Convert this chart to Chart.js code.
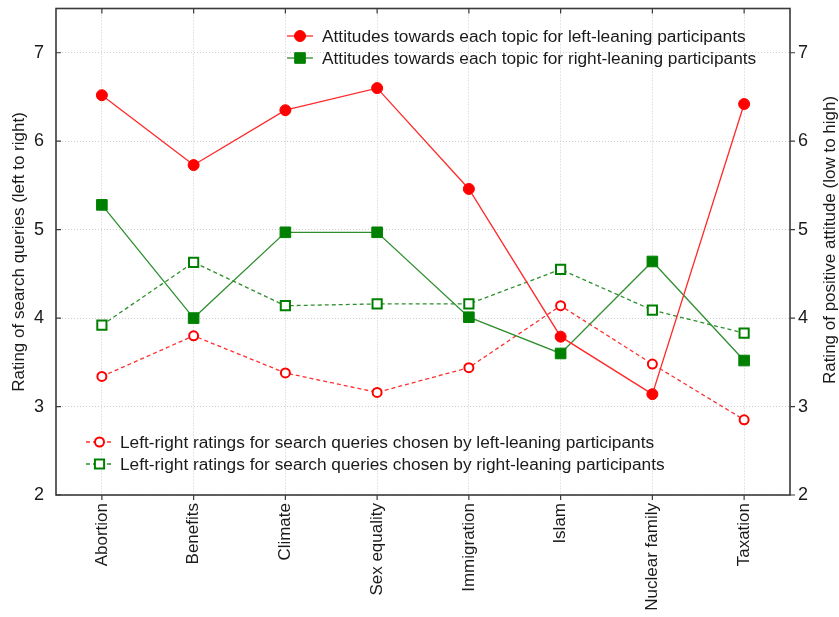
<!DOCTYPE html>
<html>
<head>
<meta charset="utf-8">
<script src="https://cdn.jsdelivr.net/npm/chart.js@4/dist/chart.umd.min.js"></script>
<style>
  html, body { margin: 0; padding: 0; background: #ffffff; }
  #wrap { width: 839px; height: 617px; position: relative; }
</style>
</head>
<body>
<div id="wrap"><canvas id="c" width="839" height="617"></canvas></div>
<script>
// Topics on the horizontal axis
const topics = ['Abortion', 'Benefits', 'Climate', 'Sex equality', 'Immigration', 'Islam', 'Nuclear family', 'Taxation'];

// Attitude ratings (right axis, low to high)
const leftAttitude  = [6.52, 5.73, 6.35, 6.60, 5.46, 3.79, 3.14, 6.42];
const rightAttitude = [5.28, 4.00, 4.97, 4.97, 4.01, 3.60, 4.64, 3.52];

// Left-right ratings of chosen search queries (left axis)
const leftQueries  = [3.34, 3.80, 3.38, 3.16, 3.44, 4.14, 3.48, 2.85];
const rightQueries = [3.92, 4.63, 4.14, 4.16, 4.16, 4.55, 4.09, 3.83];

// Tick labels shared by both vertical axes
const yTicks = [2, 3, 4, 5, 6, 7];

// Series names
const seriesNames = [
  'Attitudes towards each topic for left-leaning participants',
  'Attitudes towards each topic for right-leaning participants',
  'Left-right ratings for search queries chosen by left-leaning participants',
  'Left-right ratings for search queries chosen by right-leaning participants'
];

const FONT = "'Liberation Sans', Arial, Helvetica, sans-serif";
const TEXT = '#1a1a1a';
const RED = '#ff0000';
const GREEN = '#008000';
const GREEN_LINE = '#2f8f2f';

const datasets = [
  {
    label: seriesNames[0], data: leftAttitude, yAxisID: 'y2',
    borderColor: '#ff2a2a', borderWidth: 1.3,
    pointStyle: 'circle', pointRadius: 5.5, pointBorderWidth: 1,
    pointBackgroundColor: RED, pointBorderColor: RED
  },
  {
    label: seriesNames[1], data: rightAttitude, yAxisID: 'y2',
    borderColor: GREEN_LINE, borderWidth: 1.3,
    pointStyle: 'rect', pointRadius: 7.5, pointBorderWidth: 1,
    pointBackgroundColor: GREEN, pointBorderColor: GREEN
  },
  {
    label: seriesNames[2], data: leftQueries, yAxisID: 'y',
    borderColor: '#ff3030', borderWidth: 1.3, borderDash: [4, 3],
    pointStyle: 'circle', pointRadius: 4.5, pointBorderWidth: 2,
    pointBackgroundColor: '#ffffff', pointBorderColor: RED
  },
  {
    label: seriesNames[3], data: rightQueries, yAxisID: 'y',
    borderColor: GREEN_LINE, borderWidth: 1.3, borderDash: [4, 3],
    pointStyle: 'rect', pointRadius: 6.5, pointBorderWidth: 2,
    pointBackgroundColor: '#ffffff', pointBorderColor: GREEN
  }
];

// Frame, tick marks, in-plot legends and axis titles
const overlay = {
  id: 'overlay',
  beforeDatasetsDraw(chart) {
    const { ctx, chartArea: a, scales } = chart;
    ctx.save();
    ctx.strokeStyle = '#3a3a3a';
    ctx.lineWidth = 1.6;
    ctx.strokeRect(a.left, a.top, a.right - a.left, a.bottom - a.top);
    ctx.lineWidth = 1.2;
    ctx.beginPath();
    yTicks.forEach(v => {
      const py = scales.y.getPixelForValue(v);
      ctx.moveTo(a.left, py); ctx.lineTo(a.left + 5, py);
      ctx.moveTo(a.right, py); ctx.lineTo(a.right + 5, py);
    });
    topics.forEach((t, i) => {
      const px = scales.x.getPixelForValue(i);
      ctx.moveTo(px, a.top); ctx.lineTo(px, a.top + 5);
      ctx.moveTo(px, a.bottom); ctx.lineTo(px, a.bottom + 5);
    });
    ctx.stroke();
    ctx.restore();
  },
  afterDraw(chart) {
    const { ctx } = chart;
    const drawEntry = (ds, x0, x1, y, tx) => {
      ctx.save();
      ctx.strokeStyle = ds.borderColor;
      ctx.lineWidth = ds.borderWidth;
      ctx.setLineDash(ds.borderDash || []);
      ctx.beginPath(); ctx.moveTo(x0, y); ctx.lineTo(x1, y); ctx.stroke();
      ctx.setLineDash([]);
      ctx.fillStyle = ds.pointBackgroundColor;
      ctx.strokeStyle = ds.pointBorderColor;
      ctx.lineWidth = ds.pointBorderWidth;
      Chart.helpers.drawPoint(ctx, {
        pointStyle: ds.pointStyle, radius: ds.pointRadius,
        borderWidth: ds.pointBorderWidth, rotation: 0
      }, (x0 + x1) / 2, y);
      ctx.fillStyle = TEXT;
      ctx.font = '17.3px ' + FONT;
      ctx.textAlign = 'left';
      ctx.textBaseline = 'middle';
      ctx.fillText(ds.label, tx, y + 1);
      ctx.restore();
    };
    const ds = chart.data.datasets;
    drawEntry(ds[0], 287, 313, 36, 322);
    drawEntry(ds[1], 287, 313, 58, 322);
    drawEntry(ds[2], 86, 113, 442, 120);
    drawEntry(ds[3], 86, 113, 464, 120);

    // vertical axis titles, both reading bottom to top
    const title = (text, x, y) => {
      ctx.save();
      ctx.translate(x, y);
      ctx.rotate(-Math.PI / 2);
      ctx.fillStyle = TEXT;
      ctx.font = '17px ' + FONT;
      ctx.textAlign = 'center';
      ctx.textBaseline = 'middle';
      ctx.fillText(text, 0, 0);
      ctx.restore();
    };
    title('Rating of search queries (left to right)', 19, 252);
    title('Rating of positive attitude (low to high)', 830, 240);
  }
};

const gridStyle = { color: '#cdcdcd', lineWidth: 1, drawTicks: false };

new Chart(document.getElementById('c'), {
  type: 'line',
  data: { labels: topics, datasets },
  options: {
    responsive: false,
    animation: false,
    layout: { padding: { top: 8, left: 0, right: 0, bottom: 0 } },
    plugins: { legend: { display: false }, tooltip: { enabled: false } },
    elements: { line: { tension: 0, fill: false } },
    scales: {
      x: {
        type: 'category',
        offset: true,
        grid: Object.assign({ offset: false }, gridStyle),
        border: { display: false, dash: [1, 2] },
        ticks: {
          font: { family: FONT, size: 17 }, color: TEXT,
          minRotation: 90, maxRotation: 90, padding: 8, autoSkip: false
        },
        afterFit(s) { s.height = 122; s.paddingLeft = 0; s.paddingRight = 0; }
      },
      y: {
        type: 'linear', position: 'left', min: 2, max: 7.5,
        grid: gridStyle,
        border: { display: false, dash: [1, 2] },
        ticks: { font: { family: FONT, size: 18 }, color: TEXT, padding: 12 },
        afterBuildTicks(s) { s.ticks = yTicks.map(v => ({ value: v })); },
        afterFit(s) { s.width = 56; s.paddingTop = 0; s.paddingBottom = 0; }
      },
      y2: {
        type: 'linear', position: 'right', min: 2, max: 7.5,
        grid: { display: false, drawTicks: false },
        border: { display: false },
        ticks: { font: { family: FONT, size: 18 }, color: TEXT, padding: 8 },
        afterBuildTicks(s) { s.ticks = yTicks.map(v => ({ value: v })); },
        afterFit(s) { s.width = 49; s.paddingTop = 0; s.paddingBottom = 0; }
      }
    }
  },
  plugins: [overlay]
});
</script>
</body>
</html>
